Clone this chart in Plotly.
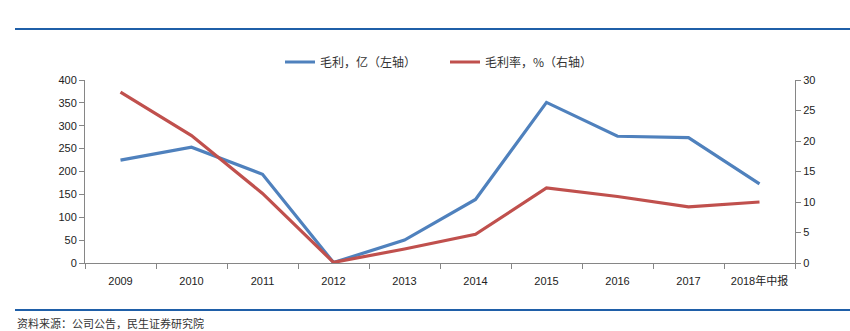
import plotly.graph_objects as go

# 年度数据
years = ["2009", "2010", "2011", "2012", "2013", "2014", "2015", "2016", "2017", "2018年中报"]
gross_profit = [225, 253, 194, 1, 50, 139, 351, 277, 274, 173]          # 毛利，亿
gross_margin = [28.0, 20.9, 11.4, 0.1, 2.3, 4.7, 12.3, 10.9, 9.2, 10.0]  # 毛利率，%

left_ticks = list(range(0, 401, 50))
right_ticks = list(range(0, 31, 5))

BLUE = "#4F81BD"
RED = "#C0504D"
AXIS = "#868686"
RULE = "#1F5FA8"
NUM_FONT = dict(family="Liberation Sans, Arial, sans-serif", size=11, color="#222222")
CJK_FONT = "Noto Sans CJK SC, sans-serif"

fig = go.Figure()
fig.add_trace(go.Scatter(
    x=years, y=gross_profit, name="毛利，亿（左轴）", mode="lines",
    line=dict(color=BLUE, width=3.2), yaxis="y",
))
fig.add_trace(go.Scatter(
    x=years, y=gross_margin, name="毛利率，%（右轴）", mode="lines",
    line=dict(color=RED, width=3.2), yaxis="y2",
))

W, H = 850, 331
L, R, T, B = 85, 55, 80, 68
ph = H - T - B
pw = W - L - R


def py(pix):
    return (H - B - pix) / ph


def px(pix):
    return (pix - L) / pw


fig.update_layout(
    width=W, height=H,
    margin=dict(l=L, r=R, t=T, b=B),
    paper_bgcolor="white", plot_bgcolor="white",
    showlegend=True,
    legend=dict(
        orientation="h", x=px(280), xanchor="left", y=py(62), yanchor="middle",
        font=dict(family=CJK_FONT, size=12, color="#333333"),
        itemwidth=30, entrywidth=120, bgcolor="rgba(0,0,0,0)",
    ),
    xaxis=dict(
        type="category", tickson="boundaries", showgrid=False,
        range=[-0.5, len(years) - 0.5],
        showline=True, linecolor=AXIS, linewidth=1,
        ticks="outside", ticklen=5, tickcolor=AXIS, ticklabelstandoff=8,
        tickfont=dict(family="Liberation Sans, Arial, " + CJK_FONT, size=11, color="#222222"),
        zeroline=False,
    ),
    yaxis=dict(
        range=[0, 400], tickvals=left_ticks, showgrid=False,
        showline=True, linecolor=AXIS, linewidth=1,
        ticks="outside", ticklen=5, tickcolor=AXIS,
        tickfont=NUM_FONT, zeroline=False,
    ),
    yaxis2=dict(
        range=[0, 30], tickvals=right_ticks, overlaying="y", side="right",
        showgrid=False, showline=True, linecolor=AXIS, linewidth=1,
        ticks="outside", ticklen=5, tickcolor=AXIS,
        tickfont=NUM_FONT, zeroline=False,
    ),
    shapes=[
        dict(type="line", xref="paper", yref="paper", x0=px(15), x1=px(850),
             y0=py(29), y1=py(29), line=dict(color=RULE, width=2)),
        dict(type="line", xref="paper", yref="paper", x0=px(15), x1=px(850),
             y0=py(310), y1=py(310), line=dict(color=RULE, width=2)),
    ],
    annotations=[
        dict(text="资料来源：公司公告，民生证券研究院", xref="paper", yref="paper",
             x=px(15), xanchor="left", y=py(313), yanchor="top", showarrow=False,
             font=dict(family=CJK_FONT, size=11, color="#333333")),
    ],
)

fig.write_html("out.html")
